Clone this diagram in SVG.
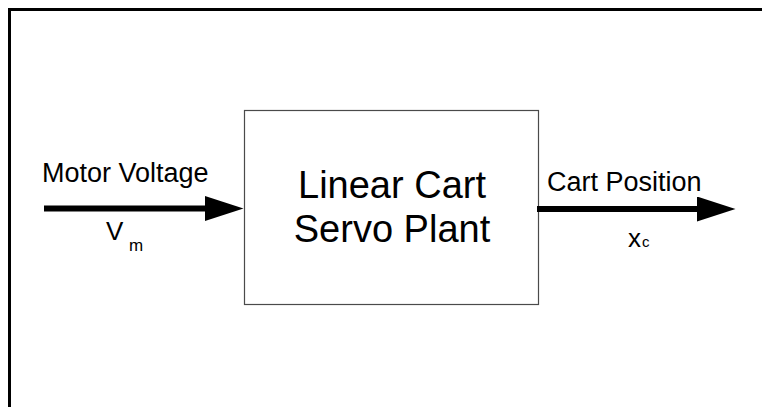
<svg xmlns="http://www.w3.org/2000/svg" width="762" height="407" viewBox="0 0 762 407">
  <style>
    .frame { fill: none; stroke: #000; stroke-width: 3; }
    .block { fill: #fff; stroke: #4a4a4a; stroke-width: 1.2; }
    .signal { stroke: #000; stroke-width: 6; fill: none; }
    .lbl { font-family: "Liberation Sans", Arial, sans-serif; fill: #000; }
    .big { font-size: 38px; }
    .med { font-size: 27px; }
    .sym { font-size: 26px; }
  </style>
  <defs>
    <marker id="head" markerUnits="userSpaceOnUse" markerWidth="39" markerHeight="26" refX="0" refY="12.5" orient="auto">
      <path d="M0,0 L38.5,12.5 L0,25 Z" fill="#000"/>
    </marker>
  </defs>

  <rect width="762" height="407" fill="#fff"/>

  <!-- outer frame, open to the right and bottom -->
  <path class="frame" d="M9.5,407 V9.5 H762"/>

  <!-- plant block -->
  <g id="plant">
    <rect class="block" x="244.5" y="110.5" width="294" height="194"/>
    <text class="lbl big" x="392" y="198" text-anchor="middle">Linear Cart</text>
    <text class="lbl big" x="392" y="242" text-anchor="middle">Servo Plant</text>
  </g>

  <!-- input signal labels -->
  <g id="input">
    <text class="lbl med" x="42" y="182">Motor Voltage</text>
    <text class="lbl sym" x="106" y="240">V</text>
    <text class="lbl" font-size="17" x="129" y="251">m</text>
  </g>

  <!-- output signal labels -->
  <g id="output">
    <text class="lbl med" x="547" y="191">Cart Position</text>
    <text class="lbl sym" x="628" y="246.5">x</text>
    <text class="lbl" font-size="15" x="642" y="246.5">c</text>
  </g>

  <!-- signal connectors -->
  <g id="connectors">
    <line class="signal" x1="44" y1="208.5" x2="205" y2="208.5" marker-end="url(#head)"/>
    <line class="signal" x1="537" y1="209" x2="697" y2="209" marker-end="url(#head)"/>
  </g>
</svg>
